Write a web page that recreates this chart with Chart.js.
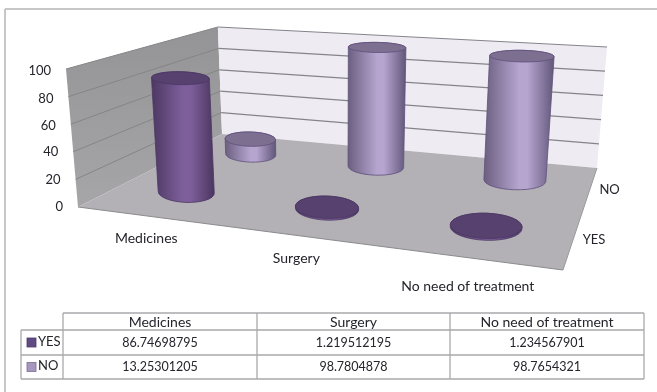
<!DOCTYPE html>
<html><head><meta charset="utf-8">
<style>html,body{margin:0;padding:0;background:#fff}canvas{display:block;filter:blur(.35px)}</style>
<script src="https://cdn.jsdelivr.net/npm/chart.js@4"></script>
</head><body><canvas id="c" width="657" height="392"></canvas>
<script>
const categories = ['Medicines', 'Surgery', 'No need of treatment'];
const seriesNames = ['YES', 'NO'];
const yesValues = [86.74698795, 1.219512195, 1.234567901];
const noValues = [13.25301205, 98.7804878, 98.7654321];
const valueTicks = [0, 20, 40, 60, 80, 100];

const FONT = '14px Lato, "Open Sans", sans-serif';
const FONT_NUM = '12.5px Lato, "Open Sans", sans-serif';
const FONT_TICK = '13px Lato, "Open Sans", sans-serif';
const INK = '#24242c';
// Projection of the unit box onto the page: [front-left, front-right, back-right, back-left]
const floorQuad = [[78,207],[563,270],[597,168],[222,134]];
const topQuad = [[66,69],[575,114],[607,47],[218,27]];
const VP = [342,3248]; // vanishing point of the vertical edges
const rU = 0.07, rW = 0.115;
const looks = {
  YES: {top:'#57416f', edge:'#4c3862', edge2:'#4a3660', mid:'#7e5f9b', line:'#4b3763'},
  NO:  {top:'#7d6f90', edge:'#6b5f80', edge2:'#62567a', mid:'#b5a5cf', line:'#5f4f7c'}
};
function homography(q){
  const [[x0,y0],[x1,y1],[x2,y2],[x3,y3]] = q;
  const dx1=x1-x2, dx2=x3-x2, sx=x0-x1+x2-x3, dy1=y1-y2, dy2=y3-y2, sy=y0-y1+y2-y3;
  const den=dx1*dy2-dx2*dy1, g=(sx*dy2-dx2*sy)/den, h=(dx1*sy-sx*dy1)/den;
  const a=x1-x0+g*x1, b=x3-x0+h*x3, d=y1-y0+g*y1, e=y3-y0+h*y3;
  return (u,w)=>{const k=g*u+h*w+1; return [(a*u+b*w+x0)/k,(d*u+e*w+y0)/k];};
}
const floorH = homography(floorQuad), topH = homography(topQuad);
function P(u,v,w){
  const f=floorH(u,w), dy=(f[1]-topH(u,w)[1])*v;
  return [f[0]+(f[0]-VP[0])/(VP[1]-f[1])*dy, f[1]-dy];
}
function quad(ctx,pts,fill){ctx.beginPath();pts.forEach((p,i)=>i?ctx.lineTo(p[0],p[1]):ctx.moveTo(p[0],p[1]));ctx.closePath();ctx.fillStyle=fill;ctx.fill();}
function seg(ctx,a,b,color,width){ctx.beginPath();ctx.moveTo(a[0],a[1]);ctx.lineTo(b[0],b[1]);ctx.strokeStyle=color;ctx.lineWidth=width;ctx.stroke();}

function ringAt(u,v,w){
  const c=P(u,v,w), a=P(u-rU,v,w), b=P(u+rU,v,w), n=P(u,v,w+rW), f=P(u,v,w-rW);
  return {c, rx:Math.hypot(b[0]-a[0],b[1]-a[1])/2, ry:Math.abs(f[1]-n[1])/2, rot:Math.atan2(b[1]-a[1],b[0]-a[0])*0.3};
}
function cylinder(ctx,u,v,w,look){
  const base=ringAt(u,0,w), top=ringAt(u,v,w);
  const lx=Math.min(base.c[0]-base.rx,top.c[0]-top.rx), rx=Math.max(base.c[0]+base.rx,top.c[0]+top.rx);
  const grad=ctx.createLinearGradient(lx,0,rx,0);
  grad.addColorStop(0,look.edge);grad.addColorStop(.5,look.mid);grad.addColorStop(.62,look.mid);grad.addColorStop(1,look.edge2);
  ctx.beginPath();
  ctx.ellipse(base.c[0],base.c[1],base.rx,base.ry,base.rot,Math.PI,0,true);
  ctx.ellipse(top.c[0],top.c[1],top.rx,top.ry,top.rot,0,Math.PI,true);
  ctx.closePath();
  ctx.fillStyle=grad;ctx.fill();
  ctx.strokeStyle=look.line;ctx.lineWidth=.8;ctx.stroke();
  ctx.beginPath();
  ctx.ellipse(top.c[0],top.c[1],top.rx,top.ry,top.rot,0,Math.PI*2);
  ctx.fillStyle=look.top;ctx.fill();ctx.stroke();
}
const scene3d = {
  id:'scene3d',
  beforeDatasetsDraw(chart){
    const ctx=chart.ctx, {x,y,z}=chart.scales;
    const U=i=>(x.getPixelForValue(i)-x.left)/x.width;
    const V=val=>(y.bottom-y.getPixelForValue(val))/y.height;
    const W=i=>(z.getPixelForValue(i)-z.top)/z.height;
    ctx.save();
    // page frame
    seg(ctx,[5,9],[657,9],'#b4b4b4',1.5);seg(ctx,[5,9],[5,392],'#b4b4b4',1.5);
    // walls and floor
    const lg=ctx.createLinearGradient(0,27,0,207);lg.addColorStop(0,'#949396');lg.addColorStop(1,'#a6a5a8');
    quad(ctx,[P(0,0,0),P(0,1,0),P(0,1,1),P(0,0,1)],lg);
    quad(ctx,[P(0,0,1),P(0,1,1),P(1,1,1),P(1,0,1)],'#eeecf2');
    quad(ctx,[P(0,0,0),P(1,0,0),P(1,0,1),P(0,0,1)],'#b3b1b5');
    seg(ctx,P(0,0,0),P(1,0,0),'#8c8b8f',1.2);
    seg(ctx,P(1,0,0),P(1,0,1),'#9a999c',1);
    // gridlines and value labels
    ctx.font=FONT_TICK;ctx.fillStyle=INK;
    y.ticks.forEach(t=>{
      const v=V(t.value);
      if(v>0){seg(ctx,P(0,v,0),P(0,v,1),'#858487',1);seg(ctx,P(0,v,1),P(1,v,1),'#85848a',1.2);}
      const p=P(0,v,0);
      ctx.textAlign='right';ctx.textBaseline='middle';ctx.fillStyle=INK;
      ctx.fillText(t.label,p[0]-15,p[1]+(v>0.5?2:0));
    });
    // category and series labels
    ctx.font=FONT;ctx.textAlign='center';
    const labelDy=[0,0,6];
    categories.forEach((c,i)=>{const p=P(U(i),0,0);ctx.fillText(c,p[0],p[1]+23+labelDy[i]);});
    ctx.font=FONT_TICK;
    z.getLabels().forEach((c,i)=>{const p=P(1,0,W(i));ctx.textAlign='left';ctx.fillText(c,p[0]+9,p[1]+2);});
    // cylinders, back row first
    [1,0].forEach(d=>{
      chart.data.datasets[d].data.forEach((val,i)=>cylinder(ctx,U(i),V(val),W(d),looks[seriesNames[d]]));
    });
    // data table
    const cols=[63,257,450,644], rows=[313,330,355,379], keyL=21, line='#a9a9ab';
    ctx.fillStyle=INK;ctx.textAlign='center';ctx.textBaseline='middle';
    ctx.font=FONT;
    categories.forEach((c,i)=>ctx.fillText(c,(cols[i]+cols[i+1])/2,(rows[0]+rows[1])/2+1));
    ctx.font=FONT_NUM;
    [yesValues,noValues].forEach((vals,r)=>{
      vals.forEach((val,i)=>ctx.fillText(String(val),(cols[i]+cols[i+1])/2,(rows[r+1]+rows[r+2])/2));
    });
    ctx.font=FONT_TICK;
    seriesNames.forEach((n,r)=>{
      const my=(rows[r+1]+rows[r+2])/2;
      ctx.fillStyle=r?'#a597bd':'#624a85';ctx.fillRect(27,my-4.5,9,9);
      ctx.strokeStyle=r?'#7a6d95':'#4e3a6e';ctx.lineWidth=.8;ctx.strokeRect(27,my-4.5,9,9);
      ctx.fillStyle=INK;ctx.textAlign='left';ctx.fillText(n,38,my-1);ctx.textAlign='center';
    });
    seg(ctx,[cols[0],rows[0]],[cols[3],rows[0]],line,1.3);
    seg(ctx,[cols[0],rows[1]],[cols[3],rows[1]],line,1.3);
    seg(ctx,[keyL,rows[1]],[cols[0],rows[1]],line,1.3);
    seg(ctx,[keyL,rows[2]],[cols[3],rows[2]],line,1.3);
    seg(ctx,[keyL,rows[3]],[cols[3],rows[3]],line,1.3);
    seg(ctx,[keyL,rows[1]],[keyL,rows[3]],line,1.3);
    cols.forEach(cx=>seg(ctx,[cx,rows[0]],[cx,rows[3]],line,1.3));
    ctx.restore();
  }
};
new Chart(document.getElementById('c'),{
  type:'bar',
  data:{labels:categories,datasets:[
    {label:seriesNames[0],data:yesValues,backgroundColor:'transparent'},
    {label:seriesNames[1],data:noValues,backgroundColor:'transparent'}
  ]},
  options:{
    responsive:false,animation:false,
    plugins:{legend:{display:false},tooltip:{enabled:false}},
    scales:{
      x:{display:false},
      y:{display:false,min:0,max:100,ticks:{stepSize:20,callback:v=>valueTicks.includes(v)?String(v):''}},
      z:{display:false,type:'category',axis:'y',labels:seriesNames,offset:true,position:'right',reverse:false}
    }
  },
  plugins:[scene3d]
});
</script></body></html>
